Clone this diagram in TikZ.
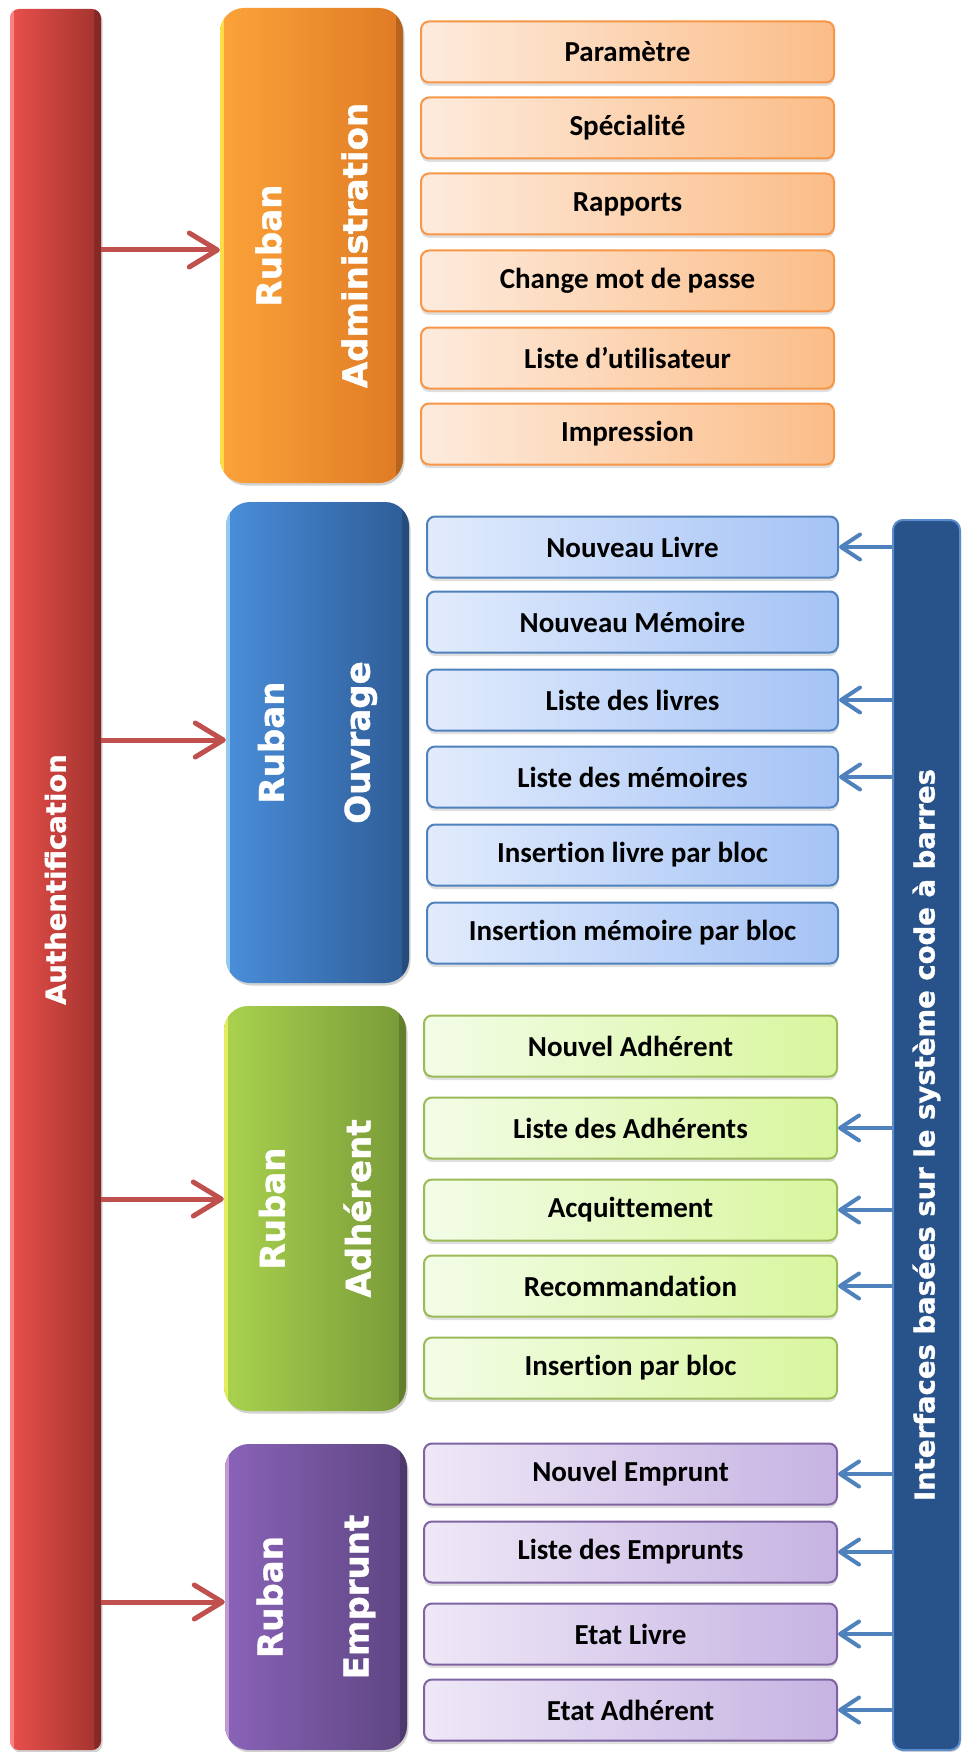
\documentclass[tikz,border=0pt]{standalone}
\usepackage{fontspec}
\setmainfont[Ligatures=NoCommon]{Carlito}
\newfontfamily\widefont[BoldFeatures={FakeBold=1.2}]{DejaVu Sans}
\usetikzlibrary{arrows.meta,shadows}

% panel shadings
\definecolor{authL}{HTML}{E9504B}
\definecolor{authR}{HTML}{A1322E}
\definecolor{admL}{HTML}{FCA33A}
\definecolor{admR}{HTML}{DE7A24}
\definecolor{ouvL}{HTML}{4A8EDA}
\definecolor{ouvR}{HTML}{2E5C96}
\definecolor{adhL}{HTML}{AAD24E}
\definecolor{adhR}{HTML}{789A38}
\definecolor{empL}{HTML}{8A63B9}
\definecolor{empR}{HTML}{5D4581}
\definecolor{codebar}{HTML}{28528A}
\definecolor{codeedge}{HTML}{5B8CCB}
% connectors
\definecolor{arrowred}{HTML}{C0504D}
\definecolor{arrowblue}{HTML}{4F81BD}
% menu entries
\definecolor{orLine}{HTML}{F79646}
\definecolor{orL}{HTML}{FDEBDD}
\definecolor{orR}{HTML}{FBBD88}
\definecolor{buLine}{HTML}{4F81BD}
\definecolor{buL}{HTML}{E1EBFC}
\definecolor{buR}{HTML}{A5C3F5}
\definecolor{grLine}{HTML}{9BBB59}
\definecolor{grL}{HTML}{F3FCE7}
\definecolor{grR}{HTML}{D8F69E}
\definecolor{puLine}{HTML}{8064A2}
\definecolor{puL}{HTML}{EEE8F7}
\definecolor{puR}{HTML}{C6B3E2}

\tikzset{
  bevel/.style={path picture={
      \draw[#1, opacity=0.7, line width=4pt]
        ([xshift=2pt]path picture bounding box.north west) --
        ([xshift=2pt]path picture bounding box.south west);
      \draw[black, opacity=0.18, line width=8pt]
        ([xshift=-3pt]path picture bounding box.north east) --
        ([xshift=-3pt]path picture bounding box.south east);}},
  panel/.style={rectangle, rounded corners=24pt, inner sep=0pt,
    drop shadow={shadow xshift=1.5pt, shadow yshift=-2.5pt, opacity=0.35}},
  panellabel/.style={rotate=90, align=center, text=white, inner sep=0pt,
    font=\widefont\bfseries\fontsize{34}{86}\selectfont},
  barlabel/.style={rotate=90, text=white, inner sep=0pt,
    font=\widefont\bfseries\fontsize{27.5}{33}\selectfont},
  entry/.style={rectangle, rounded corners=8pt, inner sep=0pt, line width=2pt,
    minimum width=413pt, minimum height=61pt, text=black,
    font=\bfseries\fontsize{29}{34}\selectfont,
    drop shadow={shadow xshift=0pt, shadow yshift=-3.5pt, opacity=0.25}},
  orentry/.style={entry, draw=orLine, left color=orL, right color=orR},
  buentry/.style={entry, draw=buLine, left color=buL, right color=buR},
  grentry/.style={entry, draw=grLine, left color=grL, right color=grR},
  puentry/.style={entry, draw=puLine, left color=puL, right color=puR},
  redarrow/.style={draw=arrowred, line width=5pt,
    -{Straight Barb[length=28pt, width=34pt, round]}},
  bluearrow/.style={draw=arrowblue, line width=4pt,
    -{Straight Barb[length=19pt, width=25pt, round]}},
}

\begin{document}
\begin{tikzpicture}[x=1pt, y=-1pt]
\useasboundingbox (0,0) rectangle (961,1752);
\fill[white] (0,0) rectangle (961,1752);

% login column
\node[panel, rounded corners=9pt, minimum width=91pt, minimum height=1741pt,
      left color=authL, right color=authR, bevel=red!40!white] (auth) at (55.5,879.5) {};
\node[barlabel] (authtext) at (auth.center) {Authentification};

% barcode column
\node[rectangle, rounded corners=10pt, minimum width=67pt, minimum height=1230pt,
      fill=codebar, draw=codeedge, line width=2pt,
      drop shadow={shadow xshift=1pt, shadow yshift=-2pt, opacity=0.3}] (code) at (926.5,1135) {};
\node[barlabel] (codetext) at (code.center) {Interfaces basées sur le système code à barres};

% ribbons
\node[panel, minimum width=183pt, minimum height=475pt,
      left color=admL, right color=admR, bevel=yellow!70!white] (adm) at (311.5,245.5) {};
\node[panellabel] (admtext) at (adm.center) {Ruban\\Administration};

\node[panel, minimum width=183pt, minimum height=481pt,
      left color=ouvL, right color=ouvR, bevel=cyan!30!white] (ouv) at (317.5,742.5) {};
\node[panellabel] (ouvtext) at (ouv.center) {Ruban\\Ouvrage};

\node[panel, minimum width=182pt, minimum height=405pt,
      left color=adhL, right color=adhR, bevel=yellow!60!white] (adh) at (315,1208.5) {};
\node[panellabel] (adhtext) at (adh.center) {Ruban\\Adhérent};

\node[panel, minimum width=182pt, minimum height=306pt,
      left color=empL, right color=empR, bevel=violet!30!white] (emp) at (316,1597) {};
\node[panellabel] (emptext) at (emp.center) {Ruban\\Emprunt};

% administration entries
\node[orentry] (a1) at (627.5,52)  {Paramètre};
\node[orentry] (a2) at (627.5,128) {Spécialité};
\node[orentry] (a3) at (627.5,204) {Rapports};
\node[orentry] (a4) at (627.5,281) {Change mot de passe};
\node[orentry] (a5) at (627.5,358) {Liste d’utilisateur};
\node[orentry] (a6) at (627.5,434) {Impression};

% book entries
\node[buentry, minimum width=411pt] (b1) at (632.5,547) {Nouveau Livre};
\node[buentry, minimum width=411pt] (b2) at (632.5,622) {Nouveau Mémoire};
\node[buentry, minimum width=411pt] (b3) at (632.5,700) {Liste des livres};
\node[buentry, minimum width=411pt] (b4) at (632.5,777) {Liste des mémoires};
\node[buentry, minimum width=411pt] (b5) at (632.5,855) {Insertion livre par bloc};
\node[buentry, minimum width=411pt] (b6) at (632.5,933) {Insertion mémoire par bloc};

% member entries
\node[grentry] (g1) at (630.5,1046) {Nouvel Adhérent};
\node[grentry] (g2) at (630.5,1128) {Liste des Adhérents};
\node[grentry] (g3) at (630.5,1210) {Acquittement};
\node[grentry] (g4) at (630.5,1286) {Recommandation};
\node[grentry] (g5) at (630.5,1368) {Insertion par bloc};

% loan entries
\node[puentry] (p1) at (630.5,1474) {Nouvel Emprunt};
\node[puentry] (p2) at (630.5,1552) {Liste des Emprunts};
\node[puentry] (p3) at (630.5,1634) {Etat Livre};
\node[puentry] (p4) at (630.5,1710) {Etat Adhérent};

% login leads to each ribbon
\coordinate (ya) at (0,250);
\coordinate (yo) at (0,740);
\coordinate (yh) at (0,1199);
\coordinate (ye) at (0,1602);
\draw[redarrow] (auth.east |- ya) -- (adm.west |- ya);
\draw[redarrow] (auth.east |- yo) -- (ouv.west |- yo);
\draw[redarrow] (auth.east |- yh) -- (adh.west |- yh);
\draw[redarrow] (auth.east |- ye) -- (emp.west |- ye);

% barcode-driven screens
\foreach \n in {b1,b3,b4,g2,g3,g4,p1,p2,p3,p4}
  \draw[bluearrow] (code.west |- \n.east) -- (\n.east);
\end{tikzpicture}
\end{document}
